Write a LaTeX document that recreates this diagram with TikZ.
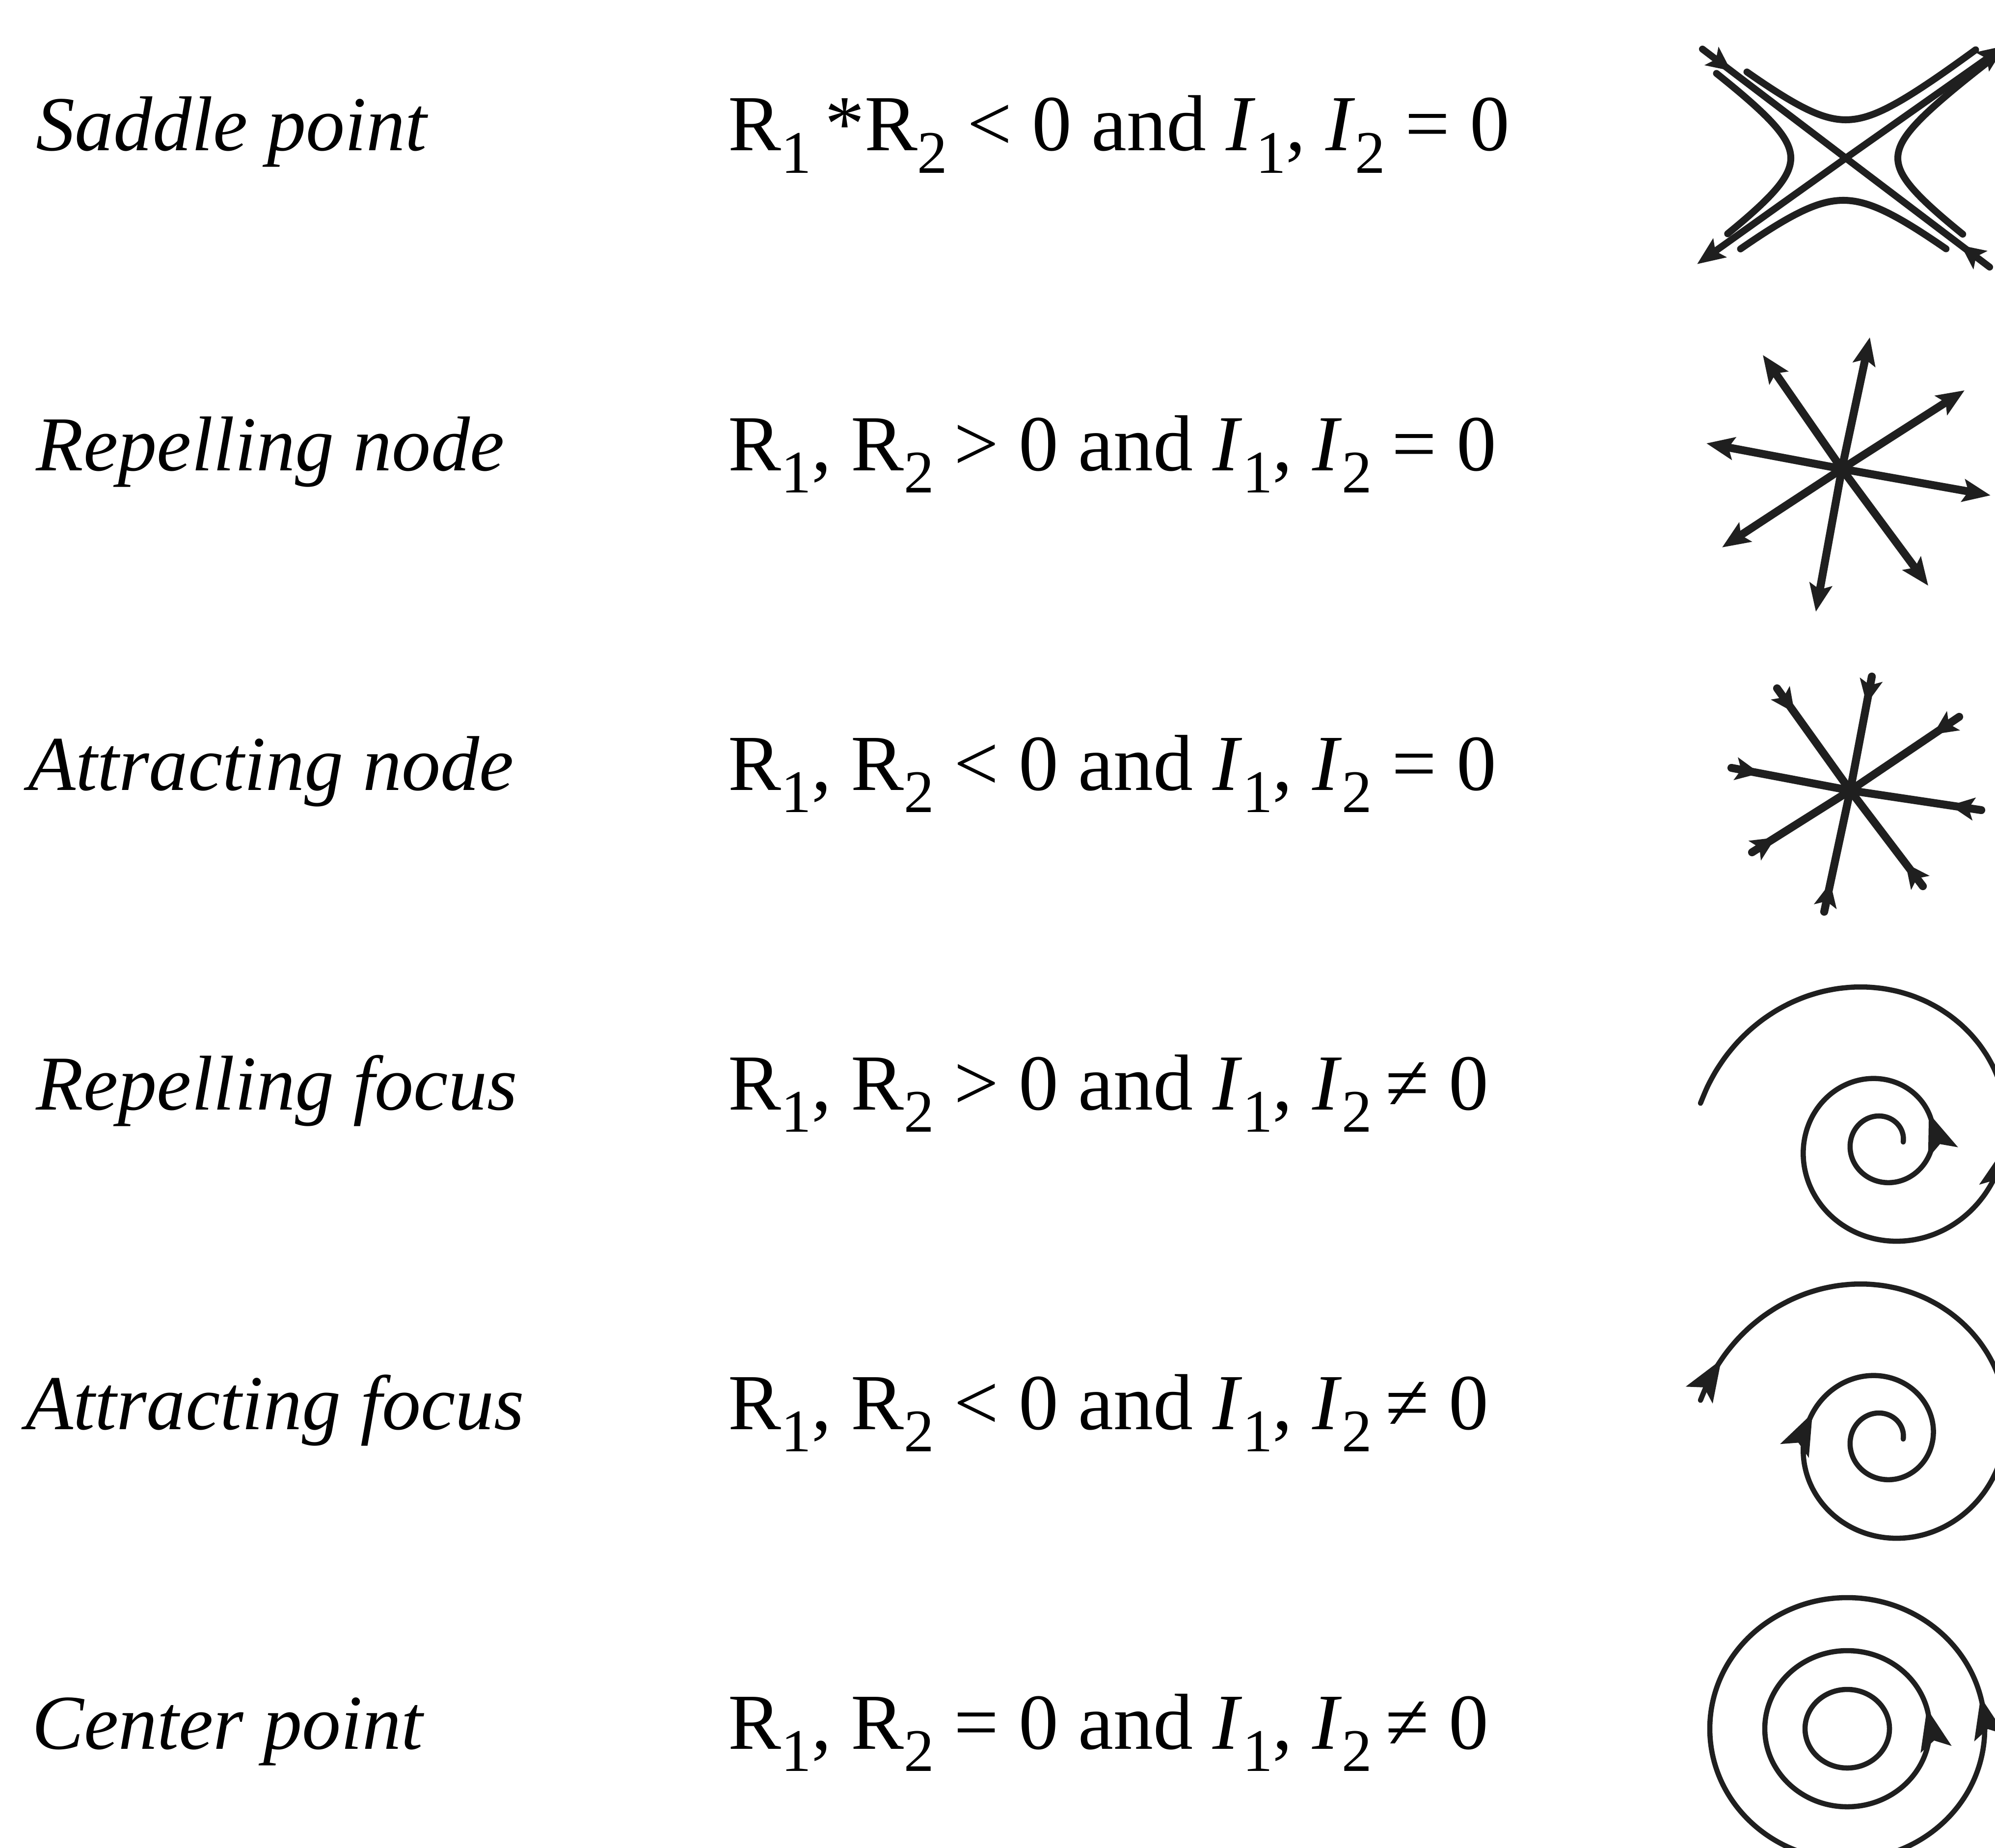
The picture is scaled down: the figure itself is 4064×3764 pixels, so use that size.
\documentclass[tikz,border=0pt]{standalone}
\usepackage{fontspec}
\setmainfont{Liberation Serif}
\usetikzlibrary{arrows.meta,decorations.markings}
\newcommand{\mysub}[1]{\raisebox{-0.28em}{\fontsize{35}{35}\selectfont #1}}
\tikzset{
  lab/.style={anchor=base west, inner sep=0pt, font=\fontsize{45}{50}\selectfont\itshape},
  frm/.style={anchor=base west, inner sep=0pt, font=\fontsize{46}{50}\selectfont},
  ink/.style={line width=4pt, line cap=round, draw=black!88},
  rayline/.style={line width=4.6pt, line cap=round, draw=black!88},
  thin ink/.style={line width=3pt, line cap=round, draw=black!88},
  big tip/.style={-{Stealth[length=16pt,width=13pt,inset=3pt]}},
  spiral tip/.style={line width=3pt, draw=black!88, fill=black!88, -{Stealth[length=24pt,width=18pt,inset=5pt]}},
  inarrow/.style={decoration={markings, mark=at position #1 with {\arrow{Stealth[length=14pt,width=13pt,inset=3pt]}}}, postaction={decorate}},
  inarrow/.default=0.2
}
\begin{document}
\begin{tikzpicture}[x=0.01cm,y=-0.01cm]
\useasboundingbox (0,0) rectangle (4064,3764);
\clip (0,0) rectangle (4064,3764);

% ---------- labels ----------
\node[lab] (l1) at (73,307)  {Saddle point};
\node[lab] (l2) at (73,958)  {Repelling node};
\node[lab] (l3) at (57,1609) {Attracting node};
\node[lab] (l4) at (73,2260) {Repelling focus};
\node[lab] (l5) at (52,2911) {Attracting focus};
\node[lab] (l6) at (65,3562) {Center point};

% ---------- formulas ----------
\node[frm] (f1) at (1483,307)  {R\mysub{1}\,*R\mysub{2} < 0 and \textit{I}\mysub{1}, \textit{I}\mysub{2} = 0};
\node[frm] (f2) at (1483,958)  {R\mysub{1}, R\mysub{2} > 0 and \textit{I}\mysub{1}, \textit{I}\mysub{2} = 0};
\node[frm] (f3) at (1483,1609) {R\mysub{1}, R\mysub{2} < 0 and \textit{I}\mysub{1}, \textit{I}\mysub{2} = 0};
\node[frm] (f4) at (1483,2260) {R\mysub{1}, R\mysub{2} > 0 and \textit{I}\mysub{1}, \textit{I}\mysub{2}\,≠ 0};
\node[frm] (f5) at (1483,2911) {R\mysub{1}, R\mysub{2} < 0 and \textit{I}\mysub{1}, \textit{I}\mysub{2}\,≠ 0};
\node[frm] (f6) at (1483,3562) {R\mysub{1}, R\mysub{2} = 0 and \textit{I}\mysub{1}, \textit{I}\mysub{2}\,≠ 0};

% ---------- saddle point ----------
\coordinate (sx)  at (3760,322);
\coordinate (sTL) at (3468,100);
\coordinate (sBR) at (4053,544);
\coordinate (sBL) at (3457,538);
\coordinate (sTR) at (4085,93);
\draw[ink, inarrow=0.2] (sTL) -- (sx);
\draw[ink, inarrow=0.2] (sBR) -- (sx);
\draw[ink, big tip] (sx) -- (sBL);
\draw[ink, big tip] (sx) -- (sTR);
\draw[ink] plot[domain=-1.5:1.4, samples=80, smooth, variable=\t] ({3760-112*cosh(\t)}, {322+81*sinh(\t)});
\draw[ink] plot[domain=-1.65:1.45, samples=80, smooth, variable=\t] ({3760+106*cosh(\t)}, {322+77*sinh(\t)});
\draw[ink] plot[domain=-1.45:1.7, samples=80, smooth, variable=\t] ({3760+100*sinh(\t)}, {322-78*cosh(\t)});
\draw[ink] plot[domain=-1.4:1.4, samples=80, smooth, variable=\t] ({3755+110*sinh(\t)}, {322+86*cosh(\t)});

% ---------- repelling node ----------
\coordinate (rc) at (3752,955);
\foreach \p in {(3809,687),(3591,723),(4002,795),(3476,903),(4055,1009),(3508,1115),(3699,1246),(3928,1193)}
  \draw[rayline, big tip] (rc) -- \p;

% ---------- attracting node ----------
\coordinate (ac) at (3769,1610);
\foreach \p in {(3813,1378),(3620,1402),(3991,1460),(3527,1564),(4036,1650),(3569,1736),(3716,1857),(3917,1805)}
  \draw[rayline, inarrow=0.24] \p -- (ac);

% ---------- repelling focus ----------
\draw[thin ink]
  plot[domain=0:15.5, samples=160, smooth, variable=\t]
  ({3835+42*exp(0.142*\t)*cos(\t r)}, {2326-42*exp(0.142*\t)*sin(\t r)});
\coordinate (rfa1) at ({3835+42*exp(0.142*6.70)*cos(6.70 r)}, {2326-42*exp(0.142*6.70)*sin(6.70 r)});
\coordinate (rfb1) at ({3835+42*exp(0.142*6.84)*cos(6.84 r)}, {2326-42*exp(0.142*6.84)*sin(6.84 r)});
\coordinate (rfa2) at ({3835+42*exp(0.142*12.42)*cos(12.42 r)}, {2326-42*exp(0.142*12.42)*sin(12.42 r)});
\coordinate (rfb2) at ({3835+42*exp(0.142*12.52)*cos(12.52 r)}, {2326-42*exp(0.142*12.52)*sin(12.52 r)});
\draw[spiral tip] (rfa1) -- (rfb1);
\draw[spiral tip] (rfa2) -- (rfb2);

% ---------- attracting focus ----------
\draw[thin ink]
  plot[domain=0:15.5, samples=160, smooth, variable=\t]
  ({3835+42*exp(0.142*\t)*cos(\t r)}, {2931-42*exp(0.142*\t)*sin(\t r)});
\coordinate (afa1) at ({3835+42*exp(0.142*9.17)*cos(9.17 r)}, {2931-42*exp(0.142*9.17)*sin(9.17 r)});
\coordinate (afb1) at ({3835+42*exp(0.142*9.07)*cos(9.07 r)}, {2931-42*exp(0.142*9.07)*sin(9.07 r)});
\coordinate (afa2) at ({3835+42*exp(0.142*15.33)*cos(15.33 r)}, {2931-42*exp(0.142*15.33)*sin(15.33 r)});
\coordinate (afb2) at ({3835+42*exp(0.142*15.25)*cos(15.25 r)}, {2931-42*exp(0.142*15.25)*sin(15.25 r)});
\draw[spiral tip] (afa1) -- (afb1);
\draw[spiral tip] (afa2) -- (afb2);

% ---------- center point ----------
\coordinate (cc) at (3763,3521);
\draw[thin ink] (cc) ellipse[x radius=86, y radius=80];
\draw[thin ink] (cc) ellipse[x radius=168, y radius=159];
\draw[thin ink] (cc) ellipse[x radius=280, y radius=267];
\coordinate (cma) at ({3763+168*cos(9)}, {3521-159*sin(9)});
\coordinate (cmb) at ({3763+168*cos(15)}, {3521-159*sin(15)});
\coordinate (coa) at ({3763+280*cos(10)}, {3521-267*sin(10)});
\coordinate (cob) at ({3763+280*cos(14)}, {3521-267*sin(14)});
\draw[spiral tip] (cma) -- (cmb);
\draw[spiral tip] (coa) -- (cob);
\end{tikzpicture}
\end{document}
